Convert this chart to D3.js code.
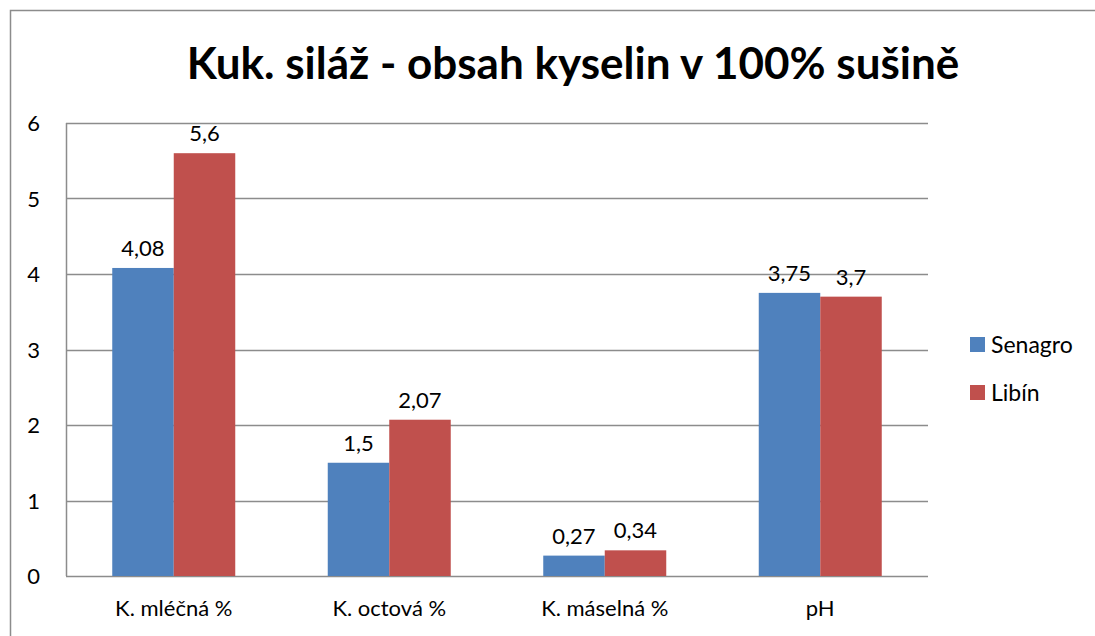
<!DOCTYPE html>
<html>
<head>
<meta charset="utf-8">
<title>Kuk. siláž</title>
<script src="https://d3js.org/d3.v7.min.js"></script>
<style>
body { margin: 0; background: #fff; }
text { font-family: Lato, "Open Sans", sans-serif; fill: #000; }
</style>
</head>
<body>
<div id="chart"></div>
<script>
// data
var categories = ["K. mléčná %", "K. octová %", "K. máselná %", "pH"];
var senagro = [4.08, 1.5, 0.27, 3.75];
var libin = [5.6, 2.07, 0.34, 3.7];
var seriesNames = ["Senagro", "Libín"];
var seriesColors = ["#4F81BD", "#C0504D"];
var yTicks = [0, 1, 2, 3, 4, 5, 6];

var width = 1095, height = 636;
var margin = {left: 66, top: 123, right: 167, bottom: 60};

var svg = d3.select("#chart").append("svg")
	.attr("width", width)
	.attr("height", height);

// outer frame
svg.append("rect")
	.attr("x", 10.5).attr("y", 10.5)
	.attr("width", width).attr("height", height)
	.attr("fill", "none")
	.attr("stroke", "#8c8c8c")
	.attr("stroke-width", 1.5);

svg.append("text")
	.attr("x", 573).attr("y", 79)
	.attr("text-anchor", "middle")
	.style("font-size", "44px")
	.style("font-weight", "bold")
	.text("Kuk. siláž - obsah kyselin v 100% sušině");

var x = d3.scaleBand()
	.domain(categories)
	.range([margin.left, width - margin.right]);

var y = d3.scaleLinear()
	.domain([0, 6])
	.range([height - margin.bottom, margin.top]);

var inner = d3.scaleBand()
	.domain([0, 1])
	.range([0, 123]);

// gridlines
svg.append("g")
	.selectAll("line")
	.data(yTicks)
	.join("line")
	.attr("x1", margin.left).attr("x2", width - margin.right)
	.attr("y1", function(d) { return Math.round(y(d)) + 0.5; })
	.attr("y2", function(d) { return Math.round(y(d)) + 0.5; })
	.attr("stroke", "#8c8c8c")
	.attr("stroke-width", 1.5);

// y axis line
svg.append("line")
	.attr("x1", margin.left + 0.5).attr("x2", margin.left + 0.5)
	.attr("y1", y(6)).attr("y2", y(0))
	.attr("stroke", "#8c8c8c")
	.attr("stroke-width", 1.5);

// y tick labels
svg.append("g")
	.selectAll("text")
	.data(yTicks)
	.join("text")
	.attr("x", 40)
	.attr("y", function(d) { return y(d) + 8; })
	.attr("text-anchor", "end")
	.style("font-size", "22px")
	.text(function(d) { return d; });

var rows = categories.map(function(c, i) {
	return {cat: c, values: [senagro[i], libin[i]]};
});

var groups = svg.append("g")
	.selectAll("g")
	.data(rows)
	.join("g")
	.attr("transform", function(d) {
		return "translate(" + (x(d.cat) + (x.bandwidth() - inner.range()[1]) / 2) + ",0)";
	});

groups.selectAll("rect")
	.data(function(d) { return d.values; })
	.join("rect")
	.attr("x", function(d, i) { return inner(i); })
	.attr("width", inner.bandwidth())
	.attr("y", function(d) { return y(d); })
	.attr("height", function(d) { return y(0) - y(d); })
	.attr("fill", function(d, i) { return seriesColors[i]; });

groups.selectAll("text")
	.data(function(d) { return d.values; })
	.join("text")
	.attr("x", function(d, i) { return inner(i) + inner.bandwidth() / 2; })
	.attr("y", function(d) { return y(d) - 12; })
	.attr("text-anchor", "middle")
	.style("font-size", "22px")
	.text(function(d) { return String(d).replace(".", ","); });

// category labels
svg.append("g")
	.selectAll("text")
	.data(categories)
	.join("text")
	.attr("x", function(d) { return x(d) + x.bandwidth() / 2; })
	.attr("y", 616)
	.attr("text-anchor", "middle")
	.style("font-size", "22px")
	.text(function(d) { return d; });

// legend
var legend = svg.append("g")
	.selectAll("g")
	.data(seriesNames)
	.join("g")
	.attr("transform", function(d, i) { return "translate(970," + (337 + i * 48) + ")"; });

legend.append("rect")
	.attr("width", 15).attr("height", 15)
	.attr("fill", function(d, i) { return seriesColors[i]; });

legend.append("text")
	.attr("x", 21).attr("y", 16)
	.style("font-size", "23px")
	.text(function(d) { return d; });
</script>
</body>
</html>
